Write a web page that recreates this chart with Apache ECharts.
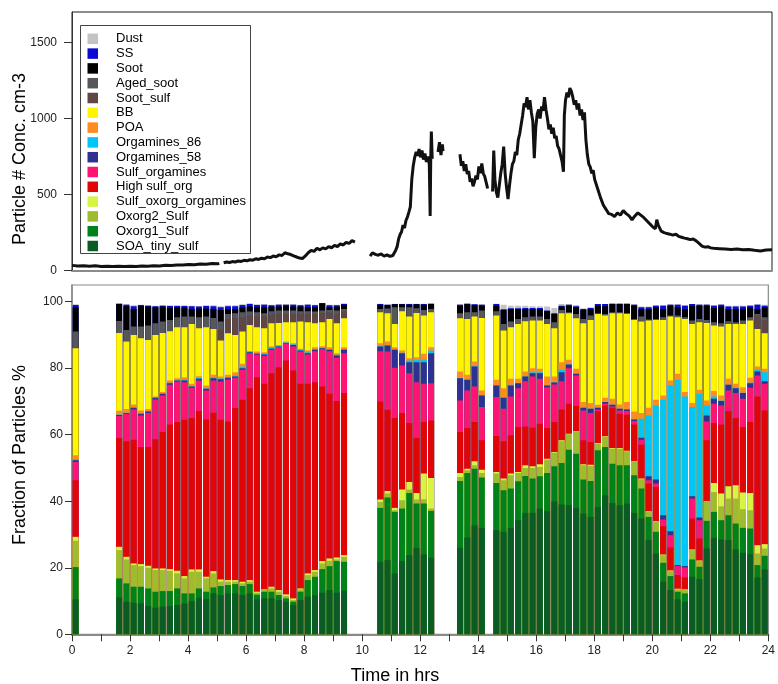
<!DOCTYPE html>
<html>
<head>
<meta charset="utf-8">
<title>Particle classes vs time</title>
<script src="https://cdn.jsdelivr.net/npm/echarts@6/dist/echarts.min.js"></script>
<style>
  html, body { margin: 0; padding: 0; background: #fff; }
  #main { width: 778px; height: 684px; }
</style>
</head>
<body>
<div id="main"></div>
<script>
// ---- top panel: particle number concentration (hours, #/cm3), null = no data
var concHours = [
  0, 0.2, 0.4, 0.6, 0.8, 1.0, 1.2, 1.4, 1.6, 1.8, 2.0, 2.2, 2.4, 2.6, 2.8, 3.0, 3.2, 3.4, 3.6, 3.8, 4.0, 4.2, 4.4, 4.6, 4.8, 5.0, 5.05,
  5.12,
  5.2, 5.3, 5.4, 5.5, 5.6, 5.7, 5.8, 5.9, 6.0, 6.1, 6.2, 6.3, 6.4, 6.5, 6.6, 6.7, 6.8, 6.9, 7.0, 7.1, 7.2, 7.3, 7.4, 7.5, 7.6, 7.7, 7.8, 7.9,
  8.0, 8.1, 8.2, 8.3, 8.4, 8.5, 8.6, 8.7, 8.8, 8.9, 9.0, 9.1, 9.2, 9.3, 9.4, 9.5, 9.6, 9.7,
  9.9,
  10.22, 10.3, 10.4, 10.5, 10.6, 10.7, 10.8, 10.9, 11.0, 11.05, 11.1, 11.15, 11.2, 11.25, 11.3, 11.35, 11.4, 11.45, 11.5, 11.55, 11.6, 11.65,
  11.7, 11.75, 11.8, 11.85, 11.9, 11.95, 12.0, 12.05, 12.1, 12.15, 12.2, 12.25, 12.28, 12.3, 12.32, 12.35,
  12.45,
  12.55, 12.6, 12.65, 12.7, 12.72,
  13.0,
  13.3, 13.35, 13.4, 13.45, 13.5, 13.55, 13.6, 13.65, 13.7, 13.75, 13.8, 13.85, 13.9, 13.95, 14.0, 14.05, 14.1, 14.15, 14.2, 14.25,
  14.33,
  14.42, 14.46, 14.5, 14.55, 14.6, 14.65, 14.7, 14.75, 14.8, 14.85, 14.9, 14.95, 15.0, 15.05, 15.1, 15.15, 15.2, 15.25, 15.3, 15.35, 15.4,
  15.45, 15.5, 15.55, 15.6, 15.65, 15.7, 15.75, 15.8, 15.85, 15.9, 15.95, 16.0, 16.05, 16.1, 16.15, 16.2, 16.25, 16.3, 16.35, 16.4, 16.45,
  16.5, 16.55, 16.6, 16.65, 16.7, 16.75, 16.8, 16.85, 16.88, 16.92, 16.97, 17.02, 17.07, 17.12, 17.17, 17.22, 17.27, 17.32, 17.37, 17.42,
  17.47, 17.52, 17.57, 17.62, 17.67, 17.72, 17.77, 17.82, 17.87, 17.92, 17.97, 18.02, 18.07, 18.12, 18.17, 18.22, 18.27, 18.32, 18.4, 18.5,
  18.6, 18.7, 18.8, 18.9, 19.0, 19.1, 19.2, 19.3, 19.4, 19.5, 19.6, 19.7, 19.8, 19.9, 20.0, 20.05, 20.1, 20.2, 20.3, 20.4, 20.5, 20.6, 20.7,
  20.8, 20.9, 21.0, 21.1, 21.2, 21.3, 21.4, 21.5, 21.6, 21.7, 21.8, 21.9, 22.0, 22.2, 22.4, 22.6, 22.8, 23.0, 23.2, 23.4, 23.6, 23.8, 24.0
];
var concValues = [
  35, 31, 33, 29, 32, 28, 30, 27, 30, 27, 29, 27, 31, 29, 33, 31, 36, 34, 38, 37, 41, 39, 44, 42, 47, 45, 48,
  null,
  52, 57, 54, 60, 57, 64, 61, 68, 65, 72, 69, 78, 74, 82, 79, 90, 86, 96, 92, 104, 100, 118, 111, 106, 97, 90, 83, 80,
  97, 118, 134, 127, 148, 137, 150, 143, 158, 151, 166, 159, 176, 169, 186, 179, 198, 188,
  null,
  96, 118, 107, 102, 110, 96, 104, 94, 100, 88, 135, 160, 210, 238, 256, 300, 280, 330, 352, 385, 420, 600,
  690, 745, 780, 755, 800, 745, 790, 730, 770, 715, 750, 700, 360, 740, 915, 735,
  null,
  780, 845, 760, 830, 785,
  null,
  765, 690, 720, 655, 700, 635, 655, 585, 605, 555, 585, 625, 600, 685, 640, 705, 640, 620, 580, 540,
  null,
  520, 790, 600, 515, 480, 560, 640, 700, 815, 640, 545, 470, 560, 640, 700, 720, 780, 760, 860, 900, 960,
  1020, 1100, 1075, 1140, 1060, 1120, 1040, 980, 740, 940, 1030, 1060, 1000, 1080, 1050, 1140, 1060, 1000, 930, 960, 900,
  940, 870, 885, 820, 800, 760, 720, 650, 1020, 1120, 1170, 1140, 1200, 1180, 1140, 1090, 1120, 1060, 1100, 1020,
  1060, 990, 1040, 860, 760, 700, 680, 640, 660, 600, 590, 540, 530, 480, 470, 430, 420, 400, 375, 370,
  355, 380, 365, 395, 375, 360, 335, 360, 380, 365, 350, 330, 310, 290, 275, 335, 300, 260, 250, 244, 240, 234, 240,
  226, 220, 214, 210, 204, 208, 196, 180, 162, 155, 158, 150, 148, 145, 142, 139, 142, 137, 140, 134, 130, 136, 137
];

// ---- bottom panel: quarter-hour slots (index * 0.25 h) that have a bar
var barSlots = [
  0,
  6, 7, 8, 9, 10, 11, 12, 13, 14, 15, 16, 17, 18, 19, 20, 21, 22, 23, 24, 25, 26, 27, 28, 29, 30, 31, 32, 33, 34, 35, 36, 37,
  42, 43, 44, 45, 46, 47, 48, 49,
  53, 54, 55, 56,
  58, 59, 60, 61, 62, 63, 64, 65, 66, 67, 68, 69, 70, 71, 72, 73, 74, 75, 76, 77, 78, 79, 80, 81, 82, 83, 84, 85, 86, 87, 88, 89,
  90, 91, 92, 93, 94, 95
];

// cumulative top (%) of each class in every bar
var topSOA = [10.5,
  11.1, 9.8, 9.5, 9.3, 8.5, 8, 8.3, 8.5, 8.8, 9.3, 10, 11, 10.6, 12.3, 11.8, 12.3, 12.3, 11.8, 12.3, 10.5, 10.8, 10.8, 10.3, 9.8, 8.8, 10.3, 11.3, 11.8, 12.5, 13.3, 12.5, 13.1,
  21.8, 22.3, 18.3, 22, 23.8, 26, 24, 23,
  26, 29.1, 32.8, 32,
  31.3, 30.8, 32, 34.3, 36.5, 36.5, 37.8, 37, 40, 39, 38.8, 38, 36.3, 35.3, 38.3, 41.8, 39.5, 38.8, 39.3, 36.5, 34.8, 28.3, 24.3, 15.8, 13.3, 10.5, 9.8, 17.3, 16.6, 25.8, 29, 28.5, 28.3, 25.5, 24.5, 24.1, 17.1, 19.5];
var topOxorg1 = [20.2,
  16.8, 15.3, 14.3, 14.3, 13.8, 12.8, 13, 13, 13.8, 12.3, 12.3, 13.8, 12.8, 14.1, 14.5, 14.8, 15.1, 14.5, 15.1, 11.9, 12.8, 12.8, 11.8, 10.8, 9.8, 12.8, 16.3, 17.3, 19.6, 20.5, 22, 21.8,
  38, 41.1, 36.8, 37.8, 42.5, 39.3, 39.3, 37.1,
  46.1, 48.5, 49.8, 47.1,
  45.5, 43.3, 43.8, 46, 47.6, 46.8, 47.5, 48.5, 50.5, 51.5, 55.5, 54.3, 46.5, 46.1, 55.3, 56.3, 51.3, 50.8, 50.8, 47.8, 43.8, 35.3, 30.8, 21.5, 17.5, 12.8, 12.3, 22.5, 20.3, 34.1, 36.8, 34.3, 35.8, 33.3, 32, 31.8, 20.8, 23.6];
var topOxorg2 = [28.1,
  25.3, 22.5, 20.8, 20.5, 20, 19.3, 19.3, 19.1, 18.3, 16.8, 18.8, 18.8, 16.8, 18.3, 15.8, 15.8, 15.8, 15.3, 15.8, 12.5, 13.3, 13.8, 12.8, 11.5, 10.3, 13.5, 17.8, 18.8, 21.3, 22.1, 22.5, 23.3,
  39.8, 42.3, 37.3, 40.3, 43.5, 40.5, 40.6, 37.8,
  47.3, 49.3, 50.8, 48.5,
  48.3, 46.3, 47.8, 48.5, 50, 50, 50.3, 52.5, 54.6, 58, 60.1, 60.8, 50.8, 50.6, 57.3, 59.3, 55.8, 55.8, 55, 51.8, 46.6, 36.8, 33.8, 23.8, 19, 13.5, 13.3, 25.3, 22, 39.8, 42.8, 38.5, 40.8, 40.8, 37.6, 37.3, 24.3, 25.8];
var topSulfOxorg = [29.3,
  26.3, 23.3, 21.3, 21.1, 20.6, 19.8, 19.8, 19.6, 19.1, 17.5, 19.5, 19.5, 17.3, 19, 16.5, 16.3, 16.3, 15.8, 16.3, 12.8, 13.5, 14.3, 13.3, 12, 10.8, 13.8, 18.3, 19.3, 22, 22.8, 23.1, 23.8,
  40.5, 43.1, 38, 43.5, 45.8, 42.5, 48.3, 47,
  48.5, 49.8, 52, 49.5,
  48.8, 46.8, 48.3, 48.8, 50.8, 50.5, 51.1, 52.8, 54.8, 58.3, 60.3, 61, 51.1, 51, 57.5, 59.5, 56, 56, 55.2, 52, 46.8, 37, 34, 24, 19.2, 13.7, 13.5, 25.5, 22.2, 40, 45.5, 42.3, 44.5, 44.8, 42.6, 42.5, 26.8, 27.1];
var topHighSulf = [46.3,
  59, 58, 58.5, 56.3, 56.3, 58.6, 60.8, 63.1, 63.8, 64.5, 65, 67.1, 64.6, 66.6, 64.5, 64, 68, 70.5, 74, 77.3, 75.3, 78.5, 80.3, 82.3, 79.3, 75.3, 75.3, 75.8, 74.5, 72.3, 70.1, 72.5,
  70, 67.5, 65, 66.5, 63.5, 59, 63.8, 64.3,
  60.8, 62, 63.8, 58.3,
  59.6, 58, 59.8, 62.3, 62.5, 62.1, 63.3, 62, 63.8, 67.6, 69.3, 68.6, 58.3, 57.8, 67.1, 68.8, 68.1, 66.3, 66, 63.1, 57, 45.3, 44.3, 32.5, 26.1, 17.8, 17.1, 34.8, 28.8, 58.3, 63.5, 63.1, 67.1, 65, 62.3, 63.8, 71.5, 67.3];
var topSulfOrg = [51.8,
  65.6, 66.3, 67.6, 65.8, 66.5, 70.6, 71.8, 75, 76, 75.8, 74.1, 76.3, 73.3, 76.3, 76, 76.5, 77.1, 79.5, 84.5, 84, 83.7, 85.5, 86.3, 87.3, 86.5, 85, 84.1, 85.1, 85.7, 85.1, 83.1, 84.5,
  85.1, 85, 80.1, 80.8, 78.5, 75.8, 75.3, 75.5,
  70.3, 73.3, 74.5, 68.3,
  71.3, 67.8, 71.5, 74, 76.1, 77.5, 76.8, 74.3, 75.1, 76.1, 80, 77.8, 67.3, 66.5, 67.5, 69.3, 68.5, 67.3, 67.1, 64.1, 58.5, 46.3, 45.3, 34.5, 29.8, 20.5, 20.1, 40.8, 34.3, 64, 69.3, 68.8, 73.3, 72.5, 70.8, 74.1, 77.8, 75.3];
var topOrg58 = [52.3,
  65.9, 66.5, 68.1, 66.3, 67, 71.1, 72.3, 75.5, 76.3, 76.3, 74.5, 76.8, 73.8, 77, 76.7, 77.1, 77.5, 80, 84.8, 84.3, 84.1, 85.8, 86.5, 87.5, 87, 85.3, 84.5, 85.5, 86, 85.5, 83.8, 85.5,
  86.5, 86.8, 85.5, 84.5, 81.8, 81.8, 81.8, 84.5,
  77, 76.5, 80.5, 71.8,
  74.8, 71.1, 74.8, 75.5, 77.5, 78.5, 78.5, 74.8, 75.7, 78.8, 81.1, 78.3, 68.1, 67.8, 68.1, 69.8, 69, 67.8, 67.6, 64.6, 59.1, 47.5, 46.5, 35.8, 31, 20.8, 20.5, 41.5, 35.1, 65.8, 70.8, 70.1, 75, 74, 72.5, 75.5, 79, 76.1];
var topOrg86 = [52.6,
  66.1, 66.6, 68.2, 66.4, 67.1, 71.2, 72.4, 75.6, 76.4, 76.6, 74.6, 77.1, 73.9, 77.3, 76.9, 77.2, 77.8, 80.5, 85, 84.5, 84.3, 86.3, 86.7, 87.7, 87.2, 85.5, 84.8, 85.7, 86.1, 85.6, 84, 85.7,
  86.6, 86.9, 85.6, 84.6, 82.3, 82.5, 82.6, 85.3,
  77, 76.5, 80.6, 71.8,
  74.8, 71.1, 75, 75.5, 77.5, 78.8, 78.8, 74.8, 75.7, 79.5, 81.1, 78.3, 68.1, 67.8, 68.1, 69.8, 69, 67.8, 67.6, 64.6, 64.8, 65.8, 68.8, 70.5, 74.8, 76.5, 71.5, 68.3, 72.3, 68.8, 71.5, 70.3, 75, 74.1, 72.6, 75.6, 79.5, 78.8];
var topPOA = [53.8,
  67.2, 67.7, 69.1, 67.3, 67.7, 71.5, 72.8, 76.3, 77, 77.3, 75.3, 77.6, 74.8, 78, 77.5, 78, 78.8, 81.3, 85.1, 85, 84.8, 86.5, 87, 88, 87.5, 85.8, 85.3, 86.3, 86.6, 86.3, 84.5, 86.3,
  87.5, 88, 86.3, 85.3, 83, 83.3, 84.3, 86.3,
  79, 78, 82, 73.3,
  76.5, 74, 76.8, 76.8, 79, 80, 79.8, 77.5, 77.5, 81.8, 82.5, 79.8, 69.8, 69.5, 69, 71.1, 70.8, 69.1, 69.8, 67, 66.5, 68.1, 70.5, 71.8, 76.3, 78.3, 72.8, 69.5, 73.5, 70.3, 73.1, 71.8, 76.8, 75.3, 74.3, 77.1, 80.5, 79.8];
var topBB = [86,
  90.6, 88, 90, 89, 88.5, 90, 90.6, 91.1, 92.3, 92.3, 93.3, 92, 92.3, 91.8, 88.3, 90.5, 90, 91, 93, 92.3, 92, 93.5, 93.6, 93.8, 93.8, 94, 93.8, 93.5, 93.8, 94.8, 93.5, 95,
  96.8, 96.5, 93.3, 97.1, 95.5, 96.6, 95.8, 96.8,
  95, 94.8, 95.5, 95.1,
  95.8, 91.3, 92.3, 93.3, 94.1, 94.3, 94.3, 93.3, 92, 96.5, 96.5, 95, 93.5, 94.5, 96.3, 95.8, 96.5, 96.5, 96.3, 94.5, 94, 94.3, 94.5, 94.5, 95.5, 95.3, 94.8, 93.3, 93.8, 93.6, 92.8, 92.5, 93.3, 93.3, 93.3, 94.3, 91.8, 90.5];
var topSootSulf = [86,
  90.6, 88, 90, 89, 88.5, 90, 90.6, 91.1, 92.3, 92.3, 93.3, 92, 92.3, 91.8, 91.5, 94.8, 95.1, 95.3, 95.8, 95.5, 95.7, 96.1, 96.5, 96.3, 96.3, 96.3, 96.3, 96.3, 96.6, 96.7, 96.3, 97,
  96.8, 96.5, 93.3, 97.1, 95.5, 96.6, 95.8, 96.8,
  95, 94.8, 95.5, 95.1,
  95.8, 91.3, 92.3, 93.3, 94.1, 94.3, 94.3, 93.3, 92, 96.5, 96.5, 95, 93.5, 94.5, 96.3, 95.8, 96.5, 96.5, 96.3, 94.5, 94, 94.3, 94.5, 94.5, 95.5, 95.3, 94.8, 93.3, 93.8, 93.6, 92.8, 92.5, 93.3, 93.3, 93.3, 94.3, 95.8, 94.5];
var topAgedSoot = [91,
  94.2, 91.5, 92.5, 92.5, 92.8, 93.5, 94, 94.5, 95.3, 95.5, 95.5, 95.3, 95.5, 95.1, 94, 96.3, 96.5, 96.8, 97, 96.8, 96.5, 97.1, 97.3, 97.3, 97.3, 97.1, 97.1, 97, 97.3, 97.5, 97.3, 97.8,
  97.8, 97.9, 98.3, 98.3, 98.3, 98, 97.5, 97.8,
  96.5, 96.8, 96.8, 97.3,
  97.1, 93.3, 94, 94.8, 95.3, 95.5, 95.5, 94.8, 93.8, 97.5, 96.8, 96.3, 94.8, 95.8, 96.5, 96.3, 96.8, 96.8, 96.6, 94.8, 95.5, 94.6, 94.8, 95.3, 95.8, 95.8, 95.3, 94.3, 94.8, 94.5, 93.8, 93.5, 94.1, 93.8, 94.3, 95.3, 96.3, 95.3];
var topSoot = [98.3,
  99.3, 98.6, 97.8, 98.6, 98.5, 98.3, 98.5, 98.1, 98.3, 98.3, 97.8, 97.9, 97.9, 97.8, 97.5, 97.8, 97.8, 98.3, 98.5, 98.3, 98.3, 98.5, 98.5, 98.8, 98.5, 98.5, 98.3, 98.3, 99.5, 98.3, 98.5, 99.1,
  99.1, 99, 99.2, 99.2, 99.1, 99.2, 99.1, 99.3,
  98.8, 99.3, 99, 98.8,
  98.8, 97.5, 97.8, 97.8, 97.8, 97.8, 97.8, 97.1, 96.3, 98.5, 98.8, 98.3, 97.5, 97.8, 98.8, 98.6, 99.3, 99.3, 99.3, 98.8, 97.8, 97.8, 98.3, 97.8, 98.8, 98.3, 97.8, 98.8, 98.8, 98.8, 98.1, 98.5, 97.8, 97.8, 97.8, 98.3, 97.8, 98.3];
var topSS = [99,
  99.4, 99.1, 98.6, 99, 98.8, 98.6, 98.8, 98.7, 98.7, 98.7, 98.6, 98.5, 98.7, 98.6, 98.3, 98.6, 98.6, 99, 99.3, 99, 99.1, 98.9, 99.1, 99.1, 99.1, 98.9, 99.1, 98.9, 99.5, 98.9, 98.9, 99.3,
  99.3, 99.1, 99.3, 99.3, 99.3, 99.3, 99.3, 99.4,
  99.1, 99.4, 99.2, 99.1,
  99.3, 97.7, 98, 98, 98.1, 98.1, 98.1, 97.3, 96.5, 98.8, 99.1, 98.6, 97.8, 98.1, 99.3, 99.3, 99.4, 99.4, 99.4, 99.1, 98.3, 98.3, 98.8, 98.8, 99.1, 99.1, 98.8, 99.3, 99.1, 99.1, 98.8, 99.1, 98.5, 98.5, 98.5, 98.8, 99.1, 98.8];
var topDust = [99.2,
  99.5, 99.3, 98.9, 99.1, 99, 98.8, 99, 98.9, 98.9, 98.9, 98.8, 98.7, 98.9, 98.9, 98.6, 98.9, 98.9, 99.2, 99.5, 99.2, 99.3, 99.1, 99.3, 99.3, 99.3, 99.1, 99.3, 99.1, 99.5, 99.1, 99.1, 99.5,
  99.4, 99.2, 99.4, 99.4, 99.4, 99.4, 99.4, 99.5,
  99.3, 99.5, 99.3, 99.3,
  99.4, 99.1, 98.8, 98.8, 98.8, 98.6, 98.6, 98.5, 98.1, 99.3, 99.3, 99, 98, 98.3, 99.3, 99.3, 99.5, 99.5, 99.5, 99.3, 98.5, 98.5, 99, 99, 99.3, 99.3, 99, 99.3, 99.3, 99.3, 99, 99.3, 98.8, 98.8, 98.8, 99, 99.3, 99.1];

var classNames = ['Dust', 'SS', 'Soot', 'Aged_soot', 'Soot_sulf', 'BB', 'POA', 'Orgamines_86', 'Orgamines_58',
  'Sulf_orgamines', 'High sulf_org', 'Sulf_oxorg_orgamines', 'Oxorg2_Sulf', 'Oxorg1_Sulf', 'SOA_tiny_sulf'];
var classColors = ['#c3c3c3', '#0a0ad2', '#000000', '#555759', '#5e4744', '#fff500', '#ff8c1e', '#00c6f6', '#2e3192',
  '#ff1473', '#e00606', '#d6f542', '#9dbd2e', '#00821a', '#0b5c24'];
var classTops = [topDust, topSS, topSoot, topAgedSoot, topSootSulf, topBB, topPOA, topOrg86, topOrg58,
  topSulfOrg, topHighSulf, topSulfOxorg, topOxorg2, topOxorg1, topSOA];

var FONT = '"Liberation Sans", Arial, Helvetica, sans-serif';

function slotData(tops) {
  var out = [];
  for (var i = 0; i < 96; i++) out.push('-');
  for (var k = 0; k < barSlots.length; k++) out[barSlots[k]] = tops[k];
  return out;
}

var quarterCats = [];
for (var q = 0; q < 96; q++) quarterCats.push(String(q * 0.25));

var linePoints = [];
for (var j = 0; j < concHours.length; j++) {
  linePoints.push([concHours[j], concValues[j] === null ? '-' : concValues[j]]);
}

var series = [{
  name: 'conc',
  type: 'line',
  xAxisIndex: 0,
  yAxisIndex: 0,
  data: linePoints,
  showSymbol: false,
  symbol: 'none',
  connectNulls: false,
  lineStyle: { color: '#111', width: 3 },
  z: 2,
  silent: true
}];

// each class is drawn as a bar up to its cumulative top; later (lower) classes cover earlier ones
for (var s = 0; s < classNames.length; s++) {
  series.push({
    name: classNames[s],
    type: 'bar',
    xAxisIndex: 2,
    yAxisIndex: 1,
    barGap: '-100%',
    barCategoryGap: '17%',
    itemStyle: { color: classColors[s] },
    data: slotData(classTops[s]),
    z: 2
  });
}

function plain(v) { return String(v); }

var chart = echarts.init(document.getElementById('main'));
chart.setOption({
  animation: false,
  backgroundColor: '#fff',
  textStyle: { fontFamily: FONT },
  grid: [
    { left: 72, right: 6, top: 12, height: 258.7, show: true, borderColor: '#1a1a1a', borderWidth: 1 },
    { left: 72, right: 6, top: 285, height: 349.3, show: true, borderColor: '#8a8a8a', borderWidth: 1.2 }
  ],
  xAxis: [
    { type: 'value', gridIndex: 0, min: 0, max: 24,
      axisLine: { lineStyle: { color: '#8a8a8a', width: 2 } },
      axisTick: { show: false }, axisLabel: { show: false }, splitLine: { show: false } },
    { type: 'value', gridIndex: 1, min: 0, max: 24, interval: 1,
      axisLine: { lineStyle: { color: '#8a8a8a', width: 2 } },
      axisTick: { length: 7, lineStyle: { color: '#333', width: 1 } },
      axisLabel: { margin: 10, fontSize: 12, color: '#222', fontFamily: FONT,
        formatter: function (v) { return v % 2 === 0 ? String(v) : ''; } },
      splitLine: { show: false } },
    { type: 'category', gridIndex: 1, data: quarterCats, show: false, boundaryGap: true }
  ],
  yAxis: [
    { type: 'value', gridIndex: 0, min: 0, max: 1700,
      axisLine: { show: true, lineStyle: { color: '#333', width: 1 } },
      axisTick: { show: true, length: 8, customValues: [0, 500, 1000, 1500], lineStyle: { color: '#333' } },
      axisLabel: { margin: 15, fontSize: 12, color: '#222', fontFamily: FONT, formatter: plain,
        customValues: [0, 500, 1000, 1500] },
      splitLine: { show: false } },
    { type: 'value', gridIndex: 1, min: 0, max: 105,
      axisLine: { show: true, lineStyle: { color: '#8a8a8a', width: 1.5 } },
      axisTick: { show: true, length: 7, customValues: [0, 20, 40, 60, 80, 100], lineStyle: { color: '#333' } },
      axisLabel: { margin: 9, fontSize: 12, color: '#222', fontFamily: FONT, formatter: plain,
        customValues: [0, 20, 40, 60, 80, 100] },
      splitLine: { show: false } }
  ],
  legend: {
    data: classNames,
    orient: 'vertical',
    left: 81,
    top: 26,
    padding: [6.3, 0, 0, 6.5],
    itemWidth: 10.5,
    itemHeight: 10.5,
    itemGap: 1.8,
    icon: 'rect',
    selectedMode: false,
    textStyle: { fontSize: 13, color: '#000', fontFamily: FONT, lineHeight: 10.5, padding: [0, 0, 0, 13] },
    z: 10
  },
  graphic: [
    { type: 'rect', z: 5, silent: true,
      shape: { x: 80.5, y: 25.5, width: 170, height: 228 },
      style: { fill: '#fff', stroke: '#444', lineWidth: 1 } },
    { type: 'text', x: 20, y: 159, rotation: Math.PI / 2, silent: true,
      style: { text: 'Particle # Conc. cm-3', fontSize: 18, fill: '#000', font: '18px ' + FONT,
        align: 'center', verticalAlign: 'middle' } },
    { type: 'text', x: 20, y: 455, rotation: Math.PI / 2, silent: true,
      style: { text: 'Fraction of Particles %', fontSize: 18, fill: '#000', font: '18px ' + FONT,
        align: 'center', verticalAlign: 'middle' } },
    { type: 'text', x: 395, y: 676, silent: true,
      style: { text: 'Time in hrs', fontSize: 18, fill: '#000', font: '18px ' + FONT,
        align: 'center', verticalAlign: 'middle' } }
  ],
  series: series
});
</script>
</body>
</html>
